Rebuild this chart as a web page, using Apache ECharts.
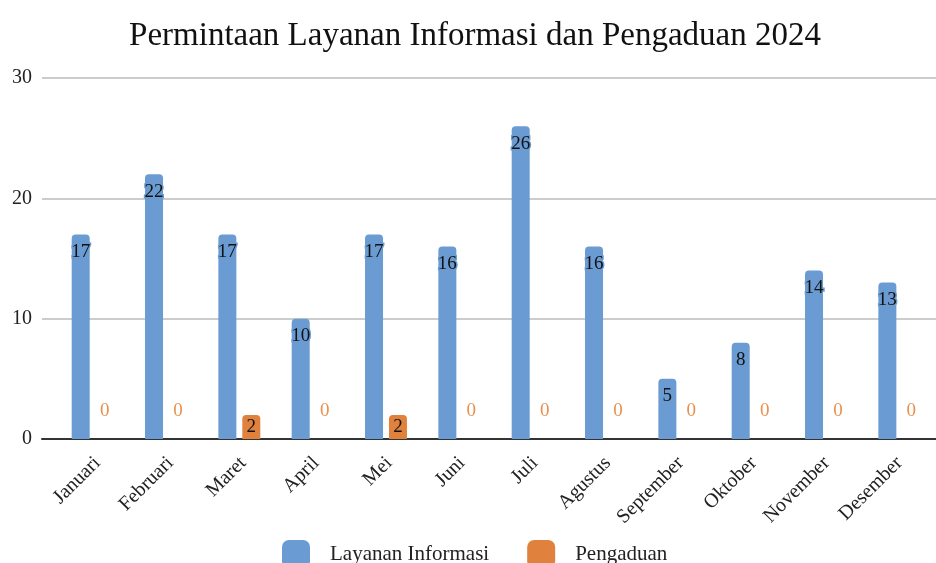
<!DOCTYPE html>
<html>
<head>
<meta charset="utf-8">
<script src="https://cdn.jsdelivr.net/npm/echarts@6/dist/echarts.min.js"></script>
<style>
  html, body { margin: 0; padding: 0; background: #fff; }
  #chart { width: 936px; height: 563px; }
</style>
</head>
<body>
<div id="chart"></div>
<script>
// Monthly counts for 2024
const months = ['Januari', 'Februari', 'Maret', 'April', 'Mei', 'Juni', 'Juli',
                'Agustus', 'September', 'Oktober', 'November', 'Desember'];
const layananInformasi = [17, 22, 17, 10, 17, 16, 26, 16, 5, 8, 14, 13];
const pengaduan = [0, 0, 2, 0, 2, 0, 0, 0, 0, 0, 0, 0];
const yTicks = [0, 10, 20, 30];

const BLUE = '#6a9bd2';
const ORANGE = '#e0823e';
const SERIF = '"Liberation Serif", "Times New Roman", serif';

const chart = echarts.init(document.getElementById('chart'));

// Zero-height bars get an orange value label above the axis;
// other bars carry their value inside the bar.
function barData(values, color, nonZeroPos) {
  return values.map(v => ({
    value: v,
    label: v === 0
      ? { position: 'top', distance: 18, color: '#e8914f', textBorderWidth: 0 }
      : { position: nonZeroPos, distance: 8, color: '#111', textBorderColor: color, textBorderWidth: 3 }
  }));
}

const plotTop = 78, plotBottom = 124;
const yRange = {
  type: 'value',
  min: yTicks[0], max: yTicks[yTicks.length - 1], interval: yTicks[1] - yTicks[0]
};

chart.setOption({
  animation: false,
  title: {
    text: 'Permintaan Layanan Informasi dan Pengaduan 2024',
    left: 470,
    textAlign: 'center',
    top: 15,
    textStyle: { fontFamily: SERIF, fontSize: 33, fontWeight: 'normal', color: '#111' }
  },
  legend: {
    left: 282,
    top: 540,
    padding: 0,
    icon: 'roundRect',
    itemWidth: 28,
    itemHeight: 28,
    itemGap: 38,
    textStyle: { fontFamily: SERIF, fontSize: 21, color: '#222', padding: [0, 0, 0, 15] },
    data: ['Layanan Informasi', 'Pengaduan']
  },
  grid: [
    // gridlines and baseline
    { left: 42, right: 0, top: plotTop, bottom: plotBottom },
    // bars
    { left: 56, width: 880, top: plotTop, bottom: plotBottom },
    // month labels
    { left: 61, width: 880, top: plotTop, bottom: plotBottom }
  ],
  xAxis: [
    {
      gridIndex: 0, type: 'category', data: months,
      axisLine: { show: true, lineStyle: { color: '#333', width: 2 } },
      axisTick: { show: false }, axisLabel: { show: false }
    },
    {
      gridIndex: 1, type: 'category', data: months,
      axisLine: { show: false }, axisTick: { show: false }, axisLabel: { show: false }
    },
    {
      gridIndex: 2, type: 'category', data: months,
      axisLine: { show: false }, axisTick: { show: false },
      axisLabel: {
        rotate: 45, margin: 21, interval: 0,
        fontFamily: SERIF, fontSize: 20, color: '#222'
      }
    }
  ],
  yAxis: [
    Object.assign({
      gridIndex: 0,
      axisLine: { show: false }, axisTick: { show: false },
      axisLabel: { margin: 10, fontFamily: SERIF, fontSize: 20, color: '#222' },
      splitLine: { lineStyle: { color: '#cccccc', width: 2 } }
    }, yRange),
    Object.assign({
      gridIndex: 1,
      axisLine: { show: false }, axisTick: { show: false },
      axisLabel: { show: false }, splitLine: { show: false }
    }, yRange),
    Object.assign({
      gridIndex: 2,
      axisLine: { show: false }, axisTick: { show: false },
      axisLabel: { show: false }, splitLine: { show: false }
    }, yRange)
  ],
  series: [
    {
      name: 'Layanan Informasi', type: 'bar', xAxisIndex: 1, yAxisIndex: 1,
      barWidth: 18, barGap: '33%',
      itemStyle: { color: BLUE, borderRadius: [4, 4, 0, 0] },
      label: { show: true, fontFamily: SERIF, fontSize: 19 },
      data: barData(layananInformasi, BLUE, 'insideTop')
    },
    {
      name: 'Pengaduan', type: 'bar', xAxisIndex: 1, yAxisIndex: 1,
      barWidth: 18, barGap: '33%',
      itemStyle: { color: ORANGE, borderRadius: [4, 4, 0, 0] },
      label: { show: true, fontFamily: SERIF, fontSize: 19 },
      data: barData(pengaduan, ORANGE, 'inside')
    }
  ]
});
</script>
</body>
</html>
